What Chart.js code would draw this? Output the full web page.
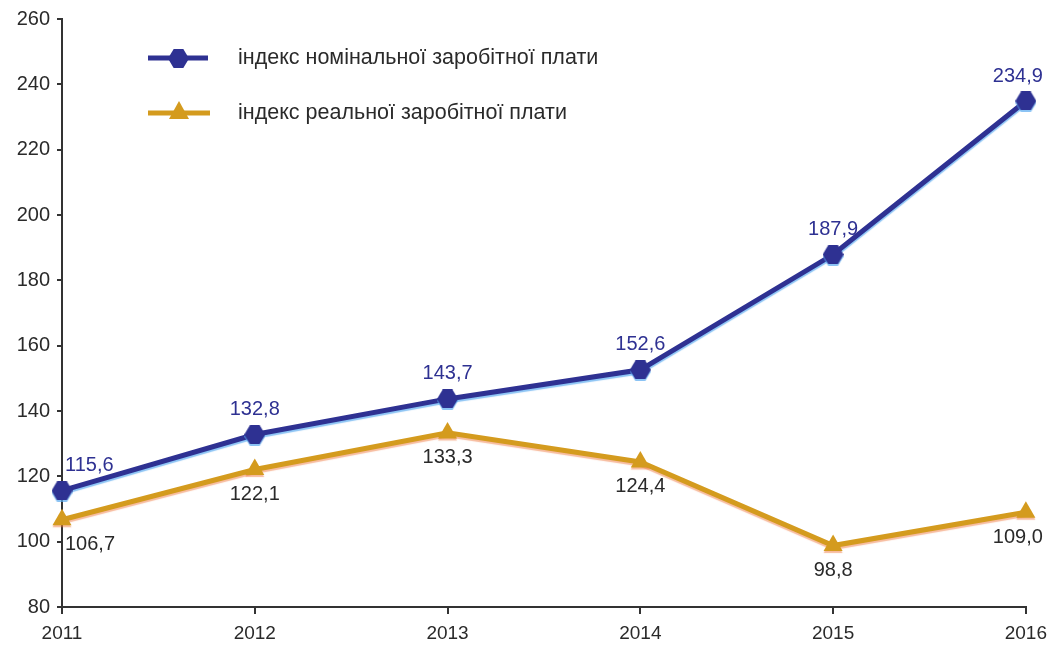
<!DOCTYPE html>
<html>
<head>
<meta charset="utf-8">
<script src="https://cdn.jsdelivr.net/npm/chart.js@4"></script>
<style>
  html, body { margin: 0; padding: 0; background: #fff; }
  #wrap { width: 1055px; height: 650px; }
</style>
</head>
<body>
<div id="wrap"><canvas id="chart"></canvas></div>
<script>
// data
const years = ["2011", "2012", "2013", "2014", "2015", "2016"];
const nominal = [115.6, 132.8, 143.7, 152.6, 187.9, 234.9];
const real = [106.7, 122.1, 133.3, 124.4, 98.8, 109.0];
const seriesNames = ["індекс номінальної заробітної плати", "індекс реальної заробітної плати"];

const blue = "#2e3192";
const gold = "#d49b1e";
const axisColor = "#333333";
const textColor = "#2a2a2a";
const font = "'Liberation Sans', Arial, sans-serif";

function hexagon(color, w, h) {
    const c = document.createElement("canvas");
    c.width = w; c.height = h;
    const g = c.getContext("2d");
    g.fillStyle = color;
    g.beginPath();
    g.moveTo(0, h / 2);
    g.lineTo(w * 0.27, 0);
    g.lineTo(w * 0.73, 0);
    g.lineTo(w, h / 2);
    g.lineTo(w * 0.73, h);
    g.lineTo(w * 0.27, h);
    g.closePath();
    g.fill();
    return c;
}
const hex = hexagon(blue, 21, 19);

function fmt(v) {
    return v.toFixed(1).replace(".", ",");
}

// value labels + legend
const labelPlugin = {
    id: "labels",
    afterDatasetsDraw(chart) {
        const ctx = chart.ctx;
        ctx.save();
        ctx.font = "20px " + font;
        ctx.textBaseline = "middle";
        chart.getDatasetMeta(0).data.forEach((pt, i) => {
            ctx.fillStyle = blue;
            let x = pt.x, align = "center";
            if (i === 0) { x = pt.x + 3; align = "left"; }
            if (i === nominal.length - 1) { x = pt.x - 8; }
            ctx.textAlign = align;
            ctx.fillText(fmt(nominal[i]), x, pt.y - 25);
        });
        chart.getDatasetMeta(1).data.forEach((pt, i) => {
            ctx.fillStyle = textColor;
            let x = pt.x, align = "center";
            if (i === 0) { x = pt.x + 3; align = "left"; }
            if (i === real.length - 1) { x = pt.x - 8; }
            ctx.textAlign = align;
            ctx.fillText(fmt(real[i]), x, pt.y + 25);
        });

        // legend
        const lx = 148, ly = [58, 113];
        ctx.lineWidth = 5;
        ctx.strokeStyle = blue;
        ctx.beginPath(); ctx.moveTo(lx, ly[0]); ctx.lineTo(lx + 60, ly[0]); ctx.stroke();
        ctx.drawImage(hex, lx + 30 - 10, ly[0] - 9);
        ctx.strokeStyle = gold;
        ctx.beginPath(); ctx.moveTo(lx, ly[1]); ctx.lineTo(lx + 62, ly[1]); ctx.stroke();
        ctx.fillStyle = gold;
        ctx.beginPath();
        ctx.moveTo(lx + 31, ly[1] - 12);
        ctx.lineTo(lx + 41, ly[1] + 6);
        ctx.lineTo(lx + 21, ly[1] + 6);
        ctx.closePath();
        ctx.fill();
        ctx.fillStyle = textColor;
        ctx.textAlign = "left";
        ctx.font = "21.5px " + font;
        ctx.fillText(seriesNames[0], 238, ly[0]);
        ctx.fillText(seriesNames[1], 238, ly[1]);
        ctx.restore();
    }
};

const shadowPlugin = {
    id: "shadow",
    beforeDatasetDraw(chart, args) {
        const ctx = chart.ctx;
        ctx.save();
        ctx.shadowColor = args.index === 0 ? "rgba(90,170,240,0.7)" : "rgba(240,120,60,0.5)";
        ctx.shadowOffsetY = 2;
        ctx.shadowBlur = 1;
    },
    afterDatasetDraw(chart) {
        chart.ctx.restore();
    }
};

new Chart(document.getElementById("chart"), {
    type: "line",
    data: {
        labels: years,
        datasets: [
            {
                label: seriesNames[0],
                data: nominal,
                borderColor: blue,
                backgroundColor: blue,
                borderWidth: 5,
                pointStyle: hex,
                pointRadius: 10
            },
            {
                label: seriesNames[1],
                data: real,
                borderColor: gold,
                backgroundColor: gold,
                borderWidth: 5,
                pointStyle: "triangle",
                pointRadius: 11,
                pointBorderWidth: 0
            }
        ]
    },
    options: {
        responsive: true,
        maintainAspectRatio: false,
        animation: false,
        layout: { padding: { top: 18, right: 25, left: 0, bottom: 0 } },
        plugins: {
            legend: { display: false },
            tooltip: { enabled: false }
        },
        scales: {
            x: {
                offset: false,
                border: { color: axisColor, width: 2 },
                grid: { display: true, drawOnChartArea: false, color: axisColor, tickLength: 7, lineWidth: 2 },
                ticks: { color: textColor, font: { size: 19, family: font }, padding: 8, maxRotation: 0 },
                afterFit(axis) { axis.height = 43; }
            },
            y: {
                min: 80,
                max: 260,
                border: { color: axisColor, width: 2 },
                grid: { display: true, drawOnChartArea: false, color: axisColor, tickLength: 5, lineWidth: 2 },
                ticks: { stepSize: 20, color: textColor, font: { size: 20, family: font }, padding: 7 },
                afterFit(axis) { axis.width = 62; }
            }
        }
    },
    plugins: [shadowPlugin, labelPlugin]
});
</script>
</body>
</html>
